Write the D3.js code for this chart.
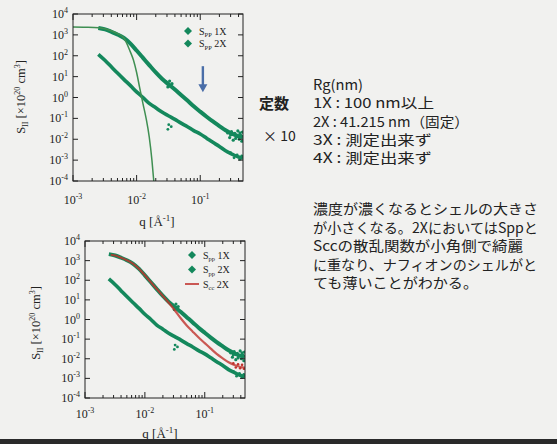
<!DOCTYPE html>
<html><head><meta charset="utf-8">
<script src="https://cdn.jsdelivr.net/npm/d3@7"></script>
<style>html,body{margin:0;padding:0;background:#f1f1ef;}svg{display:block;}</style>
</head><body>
<script>
// ---- data ----
const qGrid = [0.0025,0.0032,0.004,0.005,0.0063,0.008,0.01,0.0126,0.0158,0.02,0.025,0.032,0.04,0.05,0.063,0.079,0.1,0.126,0.158,0.2,0.25,0.32,0.4,0.47];
const spp1X = [2140,1820,1410,1050,710,380,178,79,35.5,15.8,7.9,4.2,2.4,1.32,0.71,0.38,0.21,0.12,0.071,0.043,0.027,0.018,0.014,0.0126];
const spp2X = [117,59,29.5,14.8,7.4,3.7,1.86,1.0,0.52,0.32,0.2,0.13,0.089,0.059,0.04,0.026,0.0178,0.0112,0.0071,0.0045,0.0028,0.0019,0.0014,0.00126];
const scc2X = [2000,1820,1410,1050,710,380,178,79,35.5,15.8,7.1,2.8,1.12,0.5,0.24,0.12,0.063,0.033,0.0178,0.0105,0.0066,0.0047,0.0038,0.0035];
const fitQ = [0.001,0.00158,0.00251,0.00398,0.00501,0.00631,0.00794,0.00891,0.01,0.0112,0.0126,0.0141,0.0158,0.0174,0.0186];
const fit2X = [2400,2340,2190,1580,1150,710,158,63,15.8,2.8,0.5,0.1,0.0126,0.001,0.0001];
const noise1XQ = [0.029,0.031,0.033,0.034,0.036,0.27,0.29,0.30,0.31,0.33,0.35,0.36,0.37,0.39,0.41,0.42,0.43,0.45,0.46];
const noise1XS = [5.6,3.2,6.1,3.5,4.6,0.020,0.012,0.016,0.023,0.009,0.019,0.011,0.014,0.025,0.010,0.020,0.016,0.008,0.022];
const noise2XQ = [0.031,0.032,0.035,0.30,0.34,0.38,0.42,0.45];
const noise2XS = [0.03,0.05,0.04,0.0023,0.0013,0.0018,0.0011,0.0016];
const noiseCcQ = [0.30,0.33,0.36,0.39,0.42,0.45];
const noiseCcS = [0.0058,0.0036,0.0052,0.0033,0.0049,0.0031];
const xTickVals = [1e-3,1e-2,1e-1];
const xTickExp = ["-3","-2","-1"];
const yTickVals = [1e4,1e3,1e2,1e1,1e0,1e-1,1e-2,1e-3,1e-4];
const yTickExp = ["4","3","2","1","0","-1","-2","-3","-4"];
const rgLines = ["Rg(nm)","1X : 100 nm以上","2X : 41.215 nm（固定）","3X : 測定出来ず","4X : 測定出来ず"];
const paraLines = ["濃度が濃くなるとシェルの大きさ","が小さくなる。2XにおいてはSppと","Sccの散乱関数が小角側で綺麗","に重なり、ナフィオンのシェルがと","ても薄いことがわかる。"];

const W=557,H=444;
const GREEN="#14885c", FITC="#3f8f52", RED="#c0322c";
const serif="'Liberation Serif','DejaVu Serif',serif";
const svg=d3.select("body").append("svg").attr("width",W).attr("height",H);
svg.append("rect").attr("width",W).attr("height",H).attr("fill","#f1f1ef");

function zip(q,s){return q.map((v,i)=>({q:v,s:s[i]}));}

function panel(cfg){
  const x=d3.scaleLog().domain([1e-3,0.47]).range([cfg.x0,cfg.x1]);
  const y=d3.scaleLog().domain([1e-4,1e4]).range([cfg.y1,cfg.y0]);
  const g=svg.append("g");
  const clipId="clip"+cfg.id;
  svg.append("clipPath").attr("id",clipId).append("rect")
    .attr("x",cfg.x0).attr("y",cfg.y0).attr("width",cfg.x1-cfg.x0).attr("height",cfg.y1-cfg.y0);
  const plot=g.append("g").attr("clip-path",`url(#${clipId})`);
  const line=d3.line().x(d=>x(d.q)).y(d=>y(d.s)).curve(d3.curveMonotoneX);
  plot.append("path").datum(zip(qGrid,spp2X)).attr("d",line).attr("fill","none").attr("stroke",GREEN).attr("stroke-width",3.6);
  plot.append("path").datum(zip(qGrid,spp1X)).attr("d",line).attr("fill","none").attr("stroke",GREEN).attr("stroke-width",4);
  plot.selectAll(".n1").data(zip(noise1XQ,noise1XS)).enter().append("circle")
    .attr("cx",d=>x(d.q)).attr("cy",d=>y(d.s)).attr("r",1.6).attr("fill",GREEN);
  plot.selectAll(".n2").data(zip(noise2XQ,noise2XS)).enter().append("circle")
    .attr("cx",d=>x(d.q)).attr("cy",d=>y(d.s)).attr("r",1.4).attr("fill",GREEN);
  if(cfg.fit){
    plot.append("path").datum(zip(fitQ,fit2X)).attr("d",line).attr("fill","none").attr("stroke",FITC).attr("stroke-width",1.5);
  }
  if(cfg.scc){
    const sccData=zip(qGrid,scc2X).map((d,i)=>i===0?{q:0.0027,s:d.s}:d);
    plot.append("path").datum(sccData).attr("d",line)
      .attr("fill","none").attr("stroke",RED).attr("stroke-width",2.2).attr("stroke-opacity",0.8);
    plot.selectAll(".nc").data(zip(noiseCcQ,noiseCcS)).enter().append("circle")
      .attr("cx",d=>x(d.q)).attr("cy",d=>y(d.s)).attr("r",1.3).attr("fill",RED);
  }
  g.append("rect").attr("x",cfg.x0).attr("y",cfg.y0).attr("width",cfg.x1-cfg.x0).attr("height",cfg.y1-cfg.y0)
    .attr("fill","none").attr("stroke","#222").attr("stroke-width",1);
  const minors=[];
  [1e-3,1e-2,1e-1].forEach(d=>{for(let k=2;k<=9;k++){const v=d*k; if(v<=0.47) minors.push(v);}});
  const tk=g.append("g").attr("stroke","#222").attr("stroke-width",1);
  xTickVals.forEach(v=>{
    tk.append("line").attr("x1",x(v)).attr("x2",x(v)).attr("y1",cfg.y1).attr("y2",cfg.y1-6);
    tk.append("line").attr("x1",x(v)).attr("x2",x(v)).attr("y1",cfg.y0).attr("y2",cfg.y0+6);
  });
  minors.forEach(v=>{
    tk.append("line").attr("x1",x(v)).attr("x2",x(v)).attr("y1",cfg.y1).attr("y2",cfg.y1-3);
    tk.append("line").attr("x1",x(v)).attr("x2",x(v)).attr("y1",cfg.y0).attr("y2",cfg.y0+3);
  });
  yTickVals.forEach(v=>{
    tk.append("line").attr("x1",cfg.x0).attr("x2",cfg.x0+5).attr("y1",y(v)).attr("y2",y(v));
    tk.append("line").attr("x1",cfg.x1).attr("x2",cfg.x1-5).attr("y1",y(v)).attr("y2",y(v));
  });
  yTickVals.forEach((v,i)=>{
    const t=g.append("text").attr("x",cfg.x0-5).attr("y",y(v)+4).attr("text-anchor","end")
      .attr("font-family",serif).attr("font-size",12).attr("fill","#222");
    t.append("tspan").text("10");
    t.append("tspan").attr("dy",-5).attr("font-size",8).text(yTickExp[i]);
  });
  xTickVals.forEach((v,i)=>{
    const t=g.append("text").attr("x",x(v)).attr("y",cfg.y1+cfg.xlabOff).attr("text-anchor","middle")
      .attr("font-family",serif).attr("font-size",12).attr("fill","#222");
    t.append("tspan").text("10");
    t.append("tspan").attr("dy",-5).attr("font-size",8).text(xTickExp[i]);
  });
  const xt=g.append("text").attr("x",cfg.xtX).attr("y",cfg.xtY).attr("text-anchor","middle")
    .attr("font-family",serif).attr("font-size",13).attr("fill","#222");
  xt.append("tspan").text("q [Å");
  xt.append("tspan").attr("dy",-5).attr("font-size",9).text("-1");
  xt.append("tspan").attr("dy",5).text("]");
  const yt=g.append("text").attr("transform",`translate(${cfg.ytX},${cfg.ytY}) rotate(-90)`).attr("text-anchor","middle")
    .attr("font-family",serif).attr("font-size",12.5).attr("fill","#222");
  yt.append("tspan").text("S");
  yt.append("tspan").attr("dy",3).attr("font-size",8).text(cfg.sub);
  yt.append("tspan").attr("dy",-3).text(" [×10");
  yt.append("tspan").attr("dy",-5).attr("font-size",8).text("20");
  yt.append("tspan").attr("dy",5).text(" cm");
  yt.append("tspan").attr("dy",-5).attr("font-size",8).text("3");
  yt.append("tspan").attr("dy",5).text("]");
  cfg.legend.forEach((L,i)=>{
    const ly=cfg.legY+i*cfg.legDy;
    if(L.type==="dia"){
      g.append("path").attr("d","M0,-4L4,0L0,4L-4,0Z").attr("transform",`translate(${cfg.legX},${ly})`).attr("fill",GREEN);
    } else {
      g.append("line").attr("x1",cfg.legX-7).attr("x2",cfg.legX+7).attr("y1",ly).attr("y2",ly).attr("stroke",RED).attr("stroke-width",1.6);
    }
    const t=g.append("text").attr("x",cfg.legX+11).attr("y",ly+3.5).attr("font-family",serif).attr("font-size",10).attr("fill","#222");
    t.append("tspan").text("S");
    t.append("tspan").attr("dy",2.5).attr("font-size",6.5).text(L.sub);
    t.append("tspan").attr("dy",-2.5).text(" "+L.lab);
  });
  return {x,y,g};
}

const topP=panel({id:"t",x0:73,x1:243,y0:14,y1:181,fit:true,scc:false,xlabOff:23,xtX:157,xtY:226,ytX:25,ytY:97,sub:"II",
  legX:188,legY:31,legDy:12.5,legend:[{type:"dia",sub:"PP",lab:"1X"},{type:"dia",sub:"PP",lab:"2X"}]});
const botP=panel({id:"b",x0:85,x1:245,y0:241,y1:398,fit:false,scc:true,xlabOff:20,xtX:160,xtY:438,ytX:40,ytY:323,sub:"II",
  legX:192,legY:255,legDy:14.5,legend:[{type:"dia",sub:"pp",lab:"1X"},{type:"dia",sub:"pp",lab:"2X"},{type:"line",sub:"cc",lab:"2X"}]});

const ax=topP.x(0.11), ay0=topP.y(Math.pow(10,1.5)), ay1=topP.y(Math.pow(10,0.25));
svg.append("line").attr("x1",ax).attr("x2",ax).attr("y1",ay0).attr("y2",ay1-6).attr("stroke","#4a6ea8").attr("stroke-width",2.4);
svg.append("path").attr("d",`M${ax-4.5},${ay1-8} L${ax+4.5},${ay1-8} L${ax},${ay1} Z`).attr("fill","#4a6ea8");

const jp="'Noto Sans CJK JP','Noto Sans',sans-serif";
svg.append("text").attr("x",259).attr("y",109).attr("font-family",jp).attr("font-size",15).attr("font-weight",700).attr("fill","#222").text("定数");
svg.append("text").attr("x",263).attr("y",141).attr("font-family",jp).attr("font-size",14).attr("fill","#222").text("× 10");
const rgW=[50,121,156,119,119];
rgLines.forEach((s,i)=>{
  svg.append("text").attr("x",313).attr("y",90+i*18.3).attr("font-family",jp).attr("font-size",14).attr("fill","#222")
    .attr("textLength",rgW[i]).attr("lengthAdjust","spacingAndGlyphs").text(s);
});
const paraW=[225,225,210,224,165];
paraLines.forEach((s,i)=>{
  svg.append("text").attr("x",313).attr("y",214+i*18.5).attr("font-family",jp).attr("font-size",14).attr("fill","#222")
    .attr("textLength",paraW[i]).attr("lengthAdjust","spacingAndGlyphs").text(s);
});
svg.append("rect").attr("x",0).attr("y",439).attr("width",W).attr("height",5).attr("fill","#2a2a2a");
</script>
</body></html>
